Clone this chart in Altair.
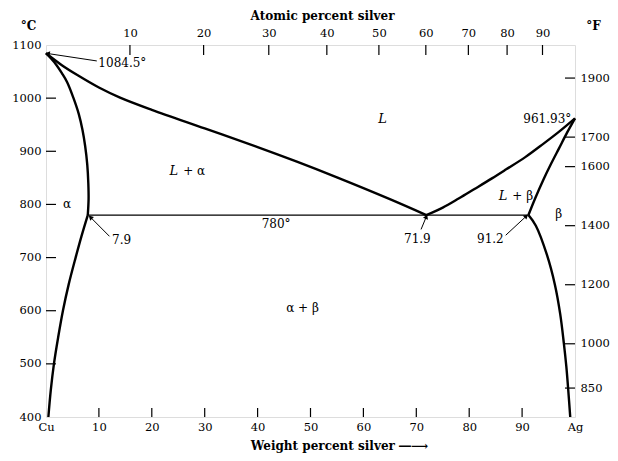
import math
import altair as alt
import pandas as pd

# ---------------- data ----------------
# Liquidus, Cu side (wt% Ag, degC)
liq_cu_wt = [0, 3, 6, 10, 14, 20, 30, 40, 47.3, 55, 65, 71.9]
liq_cu_T = [1084.5, 1062, 1043, 1020, 1001, 978, 943, 908, 881, 851, 810, 780]
# Liquidus, Ag side
liq_ag_wt = [71.9, 75, 78, 81, 84.3, 87, 90.6, 94, 97, 100]
liq_ag_T = [780, 794, 811, 829, 849, 866, 889, 914, 937, 961.93]
# Solidus of alpha
sol_a_wt = [0, 1, 2, 3, 4, 5.2, 6.2, 6.9, 7.4, 7.8, 8.0, 8.05, 7.9]
sol_a_T = [1084.5, 1074, 1062, 1047, 1030, 1000, 970, 940, 910, 875, 840, 810, 780]
# Solvus of alpha
solv_a_wt = [7.9, 6.7, 5.6, 4.3, 3.2, 2.3, 1.5, 0.9, 0.45]
solv_a_T = [780, 740, 700, 650, 600, 550, 500, 450, 400]
# Solidus of beta
sol_b_wt = [91.2, 92.5, 94.0, 95.5, 97.0, 98.5, 100]
sol_b_T = [780, 812, 846, 877, 906, 935, 961.93]
# Solvus of beta
solv_b_wt = [91.2, 92.6, 94.7, 96.2, 97.2, 97.9, 98.35, 98.7, 99.1]
solv_b_T = [780, 760, 705, 649, 594, 538, 496, 454, 400]
# Eutectic isotherm
eut_wt = [7.9, 91.2]
eut_T = [780, 780]

# Axis ticks
wt_ticks = [0, 10, 20, 30, 40, 50, 60, 70, 80, 90, 100]
wt_inner_ticks = [10, 20, 30, 40, 50, 60, 70, 80, 90]
at_ticks = [10, 20, 30, 40, 50, 60, 70, 80, 90]
c_ticks = [400, 500, 600, 700, 800, 900, 1000, 1100]
c_inner_ticks = [500, 600, 700, 800, 900, 1000]
f_ticks = [850, 1000, 1200, 1400, 1600, 1700, 1900]
M_AG, M_CU = 107.87, 63.546

# Annotations
leader_x = [0.3, 8.4, 71.9, 90.8]
leader_T = [1084.0, 776.0, 777.0, 778.0]
leader_x2 = [9.6, 12.0, 70.9, 86.9]
leader_T2 = [1070.0, 740.0, 753.0, 742.0]

plain_text = ["α", "β", "780°", "α + β", "7.9", "71.9", "91.2"]
plain_x = [4.0, 96.9, 43.5, 48.5, 14.3, 70.2, 84.0]
plain_T = [800, 782, 762.5, 606, 734, 735, 735]

two_phase_rest = ["+ α", "+ β"]
two_phase_x = [26.7, 88.9]
two_phase_T = [862.6, 815.6]

# ---------------- derived tables ----------------
W, H = 529, 372
FONT = "DejaVu Serif"
LFS = 11.5

xs = alt.Scale(domain=[0, 100], nice=False, zero=False)
ys = alt.Scale(domain=[400, 1100], nice=False, zero=False)

curves = [
    ("liq_cu", liq_cu_wt, liq_cu_T),
    ("liq_ag", liq_ag_wt, liq_ag_T),
    ("sol_a", sol_a_wt, sol_a_T),
    ("solv_a", solv_a_wt, solv_a_T),
    ("sol_b", sol_b_wt, sol_b_T),
    ("solv_b", solv_b_wt, solv_b_T),
]
rows = []
for name, w, t in curves:
    for i, (a, b) in enumerate(zip(w, t)):
        rows.append({"curve": name, "i": i, "wt": a, "T": b})
df = pd.DataFrame(rows)

eut = pd.DataFrame({"wt": eut_wt, "T": eut_T, "i": [0, 1]})


def at_to_wt(a):
    return 100 * a * M_AG / (a * M_AG + (100 - a) * M_CU)


top_vals = [at_to_wt(a) for a in at_ticks]
right_vals = [(f - 32) * 5 / 9 for f in f_ticks]

top_expr = (
    "format(round(100*(datum.value/%g)/(datum.value/%g+(100-datum.value)/%g)),'d')"
    % (M_AG, M_AG, M_CU)
)
right_expr = "format(round(datum.value*9/5+32),'d')"
bottom_expr = "datum.value == 0 ? 'Cu' : datum.value == 100 ? 'Ag' : datum.label"

lab = dict(labelFont=FONT, labelFontSize=LFS, labelColor="black", grid=False,
           domain=False, ticks=False, labelFlush=False, labelOverlap=False)
ttl = dict(titleFont=FONT, titleFontSize=12, titleFontWeight="bold", titleColor="black",
           titleAlign="center", titleBaseline="middle")

# ---------------- layers ----------------
lines = alt.Chart(df).mark_line(color="black", strokeWidth=2.4,
                                interpolate="catmull-rom").encode(
    x=alt.X("wt:Q", scale=xs, axis=alt.Axis(
        orient="bottom", values=wt_ticks, labelExpr=bottom_expr, labelPadding=4,
        title="Weight percent silver \u2015\u27f6", titleX=293, titleY=28, **ttl, **lab)),
    y=alt.Y("T:Q", scale=ys, axis=alt.Axis(
        orient="left", values=c_ticks, format="d", labelPadding=5,
        title="°C", titleAngle=0, titleX=-18, titleY=-20, **ttl, **lab)),
    detail="curve:N",
    order="i:Q",
)

ghost = alt.Chart(df).mark_line(opacity=0).encode(
    x=alt.X("wt:Q", scale=xs, axis=alt.Axis(
        orient="top", values=top_vals, labelExpr=top_expr, labelPadding=7,
        title="Atomic percent silver", titleX=276, titleY=-30, **ttl, **lab)),
    y=alt.Y("T:Q", scale=ys, axis=alt.Axis(
        orient="right", values=right_vals, labelExpr=right_expr, labelPadding=5,
        title="°F", titleAngle=0, titleX=18, titleY=-20, **ttl, **lab)),
    detail="curve:N",
    order="i:Q",
)

eut_line = alt.Chart(eut).mark_line(color="black", strokeWidth=1.3).encode(
    x=alt.X("wt:Q", scale=xs, axis=None),
    y=alt.Y("T:Q", scale=ys, axis=None),
    order="i:Q",
)

tick_rule = dict(color="black", strokeWidth=1.2)
left_t = alt.Chart(pd.DataFrame({"T": c_inner_ticks})).mark_rule(**tick_rule).encode(
    y=alt.Y("T:Q", scale=ys, axis=None), x=alt.value(0), x2=alt.value(10))
right_t = alt.Chart(pd.DataFrame({"T": right_vals})).mark_rule(**tick_rule).encode(
    y=alt.Y("T:Q", scale=ys, axis=None), x=alt.value(W - 10), x2=alt.value(W))
bottom_t = alt.Chart(pd.DataFrame({"wt": wt_inner_ticks})).mark_rule(**tick_rule).encode(
    x=alt.X("wt:Q", scale=xs, axis=None), y=alt.value(H - 9), y2=alt.value(H))
top_t = alt.Chart(pd.DataFrame({"wt": top_vals})).mark_rule(**tick_rule).encode(
    x=alt.X("wt:Q", scale=xs, axis=None), y=alt.value(0), y2=alt.value(10))

lead = pd.DataFrame({"x": leader_x, "T": leader_T, "x2": leader_x2, "T2": leader_T2})
lead["ang"] = [
    (math.degrees(math.atan2((a - c) * W / 100, (b - d) * H / 700))) % 360
    for a, b, c, d in zip(leader_x, leader_T, leader_x2, leader_T2)
]
leaders = alt.Chart(lead).mark_rule(color="black", strokeWidth=1).encode(
    x=alt.X("x:Q", scale=xs, axis=None), x2="x2:Q",
    y=alt.Y("T:Q", scale=ys, axis=None), y2="T2:Q")
heads = alt.Chart(lead).mark_point(shape="triangle-up", filled=True, color="black",
                                   size=28, opacity=1).encode(
    x=alt.X("x:Q", scale=xs, axis=None),
    y=alt.Y("T:Q", scale=ys, axis=None),
    angle=alt.Angle("ang:Q", scale=None))

plain = alt.Chart(pd.DataFrame({"t": plain_text, "x": plain_x, "T": plain_T})).mark_text(
    font=FONT, fontSize=12, color="black", align="center", baseline="middle").encode(
    x=alt.X("x:Q", scale=xs, axis=None), y=alt.Y("T:Q", scale=ys, axis=None), text="t:N")

t1084 = alt.Chart(pd.DataFrame({"t": ["1084.5°"], "x": [9.9], "T": [1066]})).mark_text(
    font=FONT, fontSize=12, color="black", align="left", baseline="middle").encode(
    x=alt.X("x:Q", scale=xs, axis=None), y=alt.Y("T:Q", scale=ys, axis=None), text="t:N")
t961 = alt.Chart(pd.DataFrame({"t": ["961.93°"], "x": [99.3], "T": [960]})).mark_text(
    font=FONT, fontSize=12, color="black", align="right", baseline="middle").encode(
    x=alt.X("x:Q", scale=xs, axis=None), y=alt.Y("T:Q", scale=ys, axis=None), text="t:N")

# Liquid region label
L_alone = alt.Chart(pd.DataFrame({"t": ["L"], "x": [63.6], "T": [960]})).mark_text(
    font=FONT, fontSize=13, fontStyle="italic", color="black", align="center",
    baseline="middle").encode(
    x=alt.X("x:Q", scale=xs, axis=None), y=alt.Y("T:Q", scale=ys, axis=None), text="t:N")

tp = pd.DataFrame({"r": two_phase_rest, "x": two_phase_x, "T": two_phase_T})
tp["L"] = "L"
L_part = alt.Chart(tp).mark_text(
    font=FONT, fontSize=13, fontStyle="italic", color="black", align="right",
    baseline="middle", dx=-9).encode(
    x=alt.X("x:Q", scale=xs, axis=None), y=alt.Y("T:Q", scale=ys, axis=None), text="L:N")
rest_part = alt.Chart(tp).mark_text(
    font=FONT, fontSize=12, color="black", align="left", baseline="middle", dx=-4).encode(
    x=alt.X("x:Q", scale=xs, axis=None), y=alt.Y("T:Q", scale=ys, axis=None), text="r:N")

chart = alt.layer(
    lines, ghost, eut_line, left_t, right_t, bottom_t, top_t,
    leaders, heads, plain, t1084, t961, L_alone, L_part, rest_part,
).resolve_axis(x="independent", y="independent").properties(
    width=W, height=H,
    autosize=alt.AutoSizeParams(type="none"),
    padding={"left": 38, "top": 37, "right": 35, "bottom": 36},
).configure_view(stroke="black", strokeWidth=1.6).configure(background="white")

chart.save("out.html", embed_options={"renderer": "svg", "actions": False})
